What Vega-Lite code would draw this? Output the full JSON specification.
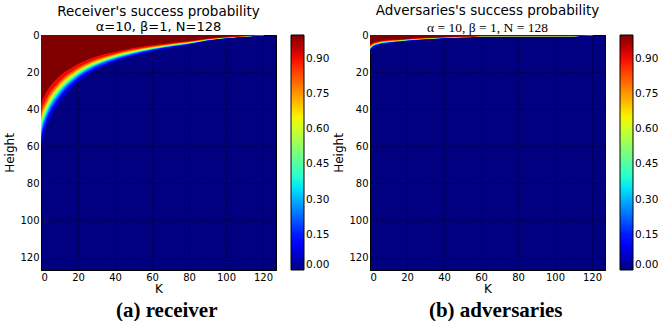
{
"$schema": "https://vega.github.io/schema/vega-lite/v6.json",
"padding": {"left": 3, "top": 3, "right": 0, "bottom": 0},
"background": "white",
"config": {
  "font": "DejaVu Sans",
  "view": {"stroke": "black", "strokeWidth": 1, "fill": "#000080"},
  "axis": {"labelFont": "DejaVu Sans", "labelFontSize": 10, "labelColor": "black", "titleFont": "DejaVu Sans", "titleFontSize": 12, "titleFontWeight": "normal", "titleColor": "black", "grid": true, "gridColor": "black", "gridDash": [1, 2], "gridOpacity": 1, "gridWidth": 0.8, "ticks": false, "domain": true, "domainColor": "black", "labelPadding": 2, "zindex": 1}
},
"datasets": {
"rec": [
{"v":0.1,"K":0,"H":61.8},{"v":0.1,"K":1,"H":55.6},{"v":0.1,"K":2,"H":52.5},{"v":0.1,"K":4,"H":47.0},{"v":0.1,"K":6,"H":42.6},{"v":0.1,"K":9,"H":37.7},{"v":0.1,"K":12,"H":33.4},{"v":0.1,"K":16,"H":29.0},{"v":0.1,"K":20,"H":25.3},{"v":0.1,"K":25,"H":21.6},{"v":0.1,"K":30,"H":18.8},{"v":0.1,"K":36,"H":16.1},{"v":0.1,"K":42,"H":13.8},{"v":0.1,"K":50,"H":11.4},{"v":0.1,"K":60,"H":8.9},{"v":0.1,"K":70,"H":6.9},{"v":0.1,"K":80,"H":5.3},{"v":0.1,"K":90,"H":3.2},{"v":0.1,"K":100,"H":1.9},{"v":0.1,"K":108,"H":1.1},{"v":0.1,"K":113,"H":0.74},{"v":0.1,"K":117,"H":0.37},{"v":0.1,"K":121,"H":0},{"v":0.1,"K":127,"H":0},
{"v":0.2,"K":0,"H":57.0},{"v":0.2,"K":1,"H":51.3},{"v":0.2,"K":2,"H":48.4},{"v":0.2,"K":4,"H":43.3},{"v":0.2,"K":6,"H":39.3},{"v":0.2,"K":9,"H":34.7},{"v":0.2,"K":12,"H":30.8},{"v":0.2,"K":16,"H":26.8},{"v":0.2,"K":20,"H":23.3},{"v":0.2,"K":25,"H":19.9},{"v":0.2,"K":30,"H":17.3},{"v":0.2,"K":36,"H":14.8},{"v":0.2,"K":42,"H":12.8},{"v":0.2,"K":50,"H":10.5},{"v":0.2,"K":60,"H":8.2},{"v":0.2,"K":70,"H":6.4},{"v":0.2,"K":80,"H":4.9},{"v":0.2,"K":90,"H":3.0},{"v":0.2,"K":100,"H":1.7},{"v":0.2,"K":108,"H":1.0},{"v":0.2,"K":113,"H":0.68},{"v":0.2,"K":117,"H":0.34},{"v":0.2,"K":121,"H":0},{"v":0.2,"K":127,"H":0},
{"v":0.3,"K":0,"H":54.4},{"v":0.3,"K":1,"H":49.0},{"v":0.3,"K":2,"H":46.2},{"v":0.3,"K":4,"H":41.3},{"v":0.3,"K":6,"H":37.5},{"v":0.3,"K":9,"H":33.2},{"v":0.3,"K":12,"H":29.4},{"v":0.3,"K":16,"H":25.6},{"v":0.3,"K":20,"H":22.3},{"v":0.3,"K":25,"H":19.0},{"v":0.3,"K":30,"H":16.5},{"v":0.3,"K":36,"H":14.1},{"v":0.3,"K":42,"H":12.2},{"v":0.3,"K":50,"H":10.0},{"v":0.3,"K":60,"H":7.8},{"v":0.3,"K":70,"H":6.1},{"v":0.3,"K":80,"H":4.7},{"v":0.3,"K":90,"H":2.8},{"v":0.3,"K":100,"H":1.6},{"v":0.3,"K":108,"H":1.0},{"v":0.3,"K":113,"H":0.65},{"v":0.3,"K":117,"H":0.33},{"v":0.3,"K":121,"H":0},{"v":0.3,"K":127,"H":0},
{"v":0.4,"K":0,"H":52.5},{"v":0.4,"K":1,"H":47.3},{"v":0.4,"K":2,"H":44.6},{"v":0.4,"K":4,"H":39.9},{"v":0.4,"K":6,"H":36.2},{"v":0.4,"K":9,"H":32.0},{"v":0.4,"K":12,"H":28.4},{"v":0.4,"K":16,"H":24.7},{"v":0.4,"K":20,"H":21.5},{"v":0.4,"K":25,"H":18.4},{"v":0.4,"K":30,"H":16.0},{"v":0.4,"K":36,"H":13.7},{"v":0.4,"K":42,"H":11.8},{"v":0.4,"K":50,"H":9.7},{"v":0.4,"K":60,"H":7.6},{"v":0.4,"K":70,"H":5.9},{"v":0.4,"K":80,"H":4.5},{"v":0.4,"K":90,"H":2.7},{"v":0.4,"K":100,"H":1.6},{"v":0.4,"K":108,"H":0.9},{"v":0.4,"K":113,"H":0.63},{"v":0.4,"K":117,"H":0.32},{"v":0.4,"K":121,"H":0},{"v":0.4,"K":127,"H":0},
{"v":0.5,"K":0,"H":50.8},{"v":0.5,"K":1,"H":45.7},{"v":0.5,"K":2,"H":43.2},{"v":0.5,"K":4,"H":38.6},{"v":0.5,"K":6,"H":35.1},{"v":0.5,"K":9,"H":31.0},{"v":0.5,"K":12,"H":27.4},{"v":0.5,"K":16,"H":23.9},{"v":0.5,"K":20,"H":20.8},{"v":0.5,"K":25,"H":17.8},{"v":0.5,"K":30,"H":15.4},{"v":0.5,"K":36,"H":13.2},{"v":0.5,"K":42,"H":11.4},{"v":0.5,"K":50,"H":9.3},{"v":0.5,"K":60,"H":7.3},{"v":0.5,"K":70,"H":5.7},{"v":0.5,"K":80,"H":4.4},{"v":0.5,"K":90,"H":2.6},{"v":0.5,"K":100,"H":1.5},{"v":0.5,"K":108,"H":0.9},{"v":0.5,"K":113,"H":0.61},{"v":0.5,"K":117,"H":0.30},{"v":0.5,"K":121,"H":0},{"v":0.5,"K":127,"H":0},
{"v":0.6,"K":0,"H":49.2},{"v":0.6,"K":1,"H":44.3},{"v":0.6,"K":2,"H":41.8},{"v":0.6,"K":4,"H":37.4},{"v":0.6,"K":6,"H":33.9},{"v":0.6,"K":9,"H":30.0},{"v":0.6,"K":12,"H":26.6},{"v":0.6,"K":16,"H":23.1},{"v":0.6,"K":20,"H":20.2},{"v":0.6,"K":25,"H":17.2},{"v":0.6,"K":30,"H":15.0},{"v":0.6,"K":36,"H":12.8},{"v":0.6,"K":42,"H":11.0},{"v":0.6,"K":50,"H":9.1},{"v":0.6,"K":60,"H":7.1},{"v":0.6,"K":70,"H":5.5},{"v":0.6,"K":80,"H":4.2},{"v":0.6,"K":90,"H":2.6},{"v":0.6,"K":100,"H":1.5},{"v":0.6,"K":108,"H":0.9},{"v":0.6,"K":113,"H":0.59},{"v":0.6,"K":117,"H":0.30},{"v":0.6,"K":121,"H":0},{"v":0.6,"K":127,"H":0},
{"v":0.7,"K":0,"H":47.5},{"v":0.7,"K":1,"H":42.8},{"v":0.7,"K":2,"H":40.4},{"v":0.7,"K":4,"H":36.1},{"v":0.7,"K":6,"H":32.8},{"v":0.7,"K":9,"H":29.0},{"v":0.7,"K":12,"H":25.7},{"v":0.7,"K":16,"H":22.3},{"v":0.7,"K":20,"H":19.5},{"v":0.7,"K":25,"H":16.6},{"v":0.7,"K":30,"H":14.4},{"v":0.7,"K":36,"H":12.4},{"v":0.7,"K":42,"H":10.6},{"v":0.7,"K":50,"H":8.7},{"v":0.7,"K":60,"H":6.8},{"v":0.7,"K":70,"H":5.3},{"v":0.7,"K":80,"H":4.1},{"v":0.7,"K":90,"H":2.5},{"v":0.7,"K":100,"H":1.4},{"v":0.7,"K":108,"H":0.9},{"v":0.7,"K":113,"H":0.57},{"v":0.7,"K":117,"H":0.29},{"v":0.7,"K":121,"H":0},{"v":0.7,"K":127,"H":0},
{"v":0.8,"K":0,"H":45.6},{"v":0.8,"K":1,"H":41.0},{"v":0.8,"K":2,"H":38.8},{"v":0.8,"K":4,"H":34.7},{"v":0.8,"K":6,"H":31.5},{"v":0.8,"K":9,"H":27.8},{"v":0.8,"K":12,"H":24.6},{"v":0.8,"K":16,"H":21.4},{"v":0.8,"K":20,"H":18.7},{"v":0.8,"K":25,"H":16.0},{"v":0.8,"K":30,"H":13.9},{"v":0.8,"K":36,"H":11.9},{"v":0.8,"K":42,"H":10.2},{"v":0.8,"K":50,"H":8.4},{"v":0.8,"K":60,"H":6.6},{"v":0.8,"K":70,"H":5.1},{"v":0.8,"K":80,"H":3.9},{"v":0.8,"K":90,"H":2.4},{"v":0.8,"K":100,"H":1.4},{"v":0.8,"K":108,"H":0.8},{"v":0.8,"K":113,"H":0.55},{"v":0.8,"K":117,"H":0.27},{"v":0.8,"K":121,"H":0},{"v":0.8,"K":127,"H":0},
{"v":0.9,"K":0,"H":43.1},{"v":0.9,"K":1,"H":38.7},{"v":0.9,"K":2,"H":36.6},{"v":0.9,"K":4,"H":32.7},{"v":0.9,"K":6,"H":29.7},{"v":0.9,"K":9,"H":26.3},{"v":0.9,"K":12,"H":23.2},{"v":0.9,"K":16,"H":20.2},{"v":0.9,"K":20,"H":17.7},{"v":0.9,"K":25,"H":15.1},{"v":0.9,"K":30,"H":13.1},{"v":0.9,"K":36,"H":11.2},{"v":0.9,"K":42,"H":9.6},{"v":0.9,"K":50,"H":7.9},{"v":0.9,"K":60,"H":6.2},{"v":0.9,"K":70,"H":4.8},{"v":0.9,"K":80,"H":3.7},{"v":0.9,"K":90,"H":2.2},{"v":0.9,"K":100,"H":1.3},{"v":0.9,"K":108,"H":0.8},{"v":0.9,"K":113,"H":0.52},{"v":0.9,"K":117,"H":0.26},{"v":0.9,"K":121,"H":0},{"v":0.9,"K":127,"H":0},
{"v":1.0,"K":0,"H":38.2},{"v":1.0,"K":1,"H":34.4},{"v":1.0,"K":2,"H":32.5},{"v":1.0,"K":4,"H":29.0},{"v":1.0,"K":6,"H":26.4},{"v":1.0,"K":9,"H":23.3},{"v":1.0,"K":12,"H":20.6},{"v":1.0,"K":16,"H":18.0},{"v":1.0,"K":20,"H":15.7},{"v":1.0,"K":25,"H":13.4},{"v":1.0,"K":30,"H":11.6},{"v":1.0,"K":36,"H":9.9},{"v":1.0,"K":42,"H":8.6},{"v":1.0,"K":50,"H":7.0},{"v":1.0,"K":60,"H":5.5},{"v":1.0,"K":70,"H":4.3},{"v":1.0,"K":80,"H":3.3},{"v":1.0,"K":90,"H":2.0},{"v":1.0,"K":100,"H":1.1},{"v":1.0,"K":108,"H":0.7},{"v":1.0,"K":113,"H":0.46},{"v":1.0,"K":117,"H":0.23},{"v":1.0,"K":121,"H":0},{"v":1.0,"K":127,"H":0}
],
"adv": [
{"v":0.1,"K":0,"H":8.7},{"v":0.1,"K":1,"H":7.4},{"v":0.1,"K":2,"H":6.6},{"v":0.1,"K":4,"H":5.7},{"v":0.1,"K":6,"H":5.1},{"v":0.1,"K":9,"H":4.6},{"v":0.1,"K":12,"H":4.2},{"v":0.1,"K":16,"H":3.8},{"v":0.1,"K":20,"H":3.3},{"v":0.1,"K":25,"H":2.8},{"v":0.1,"K":30,"H":2.5},{"v":0.1,"K":36,"H":2.1},{"v":0.1,"K":42,"H":1.7},{"v":0.1,"K":50,"H":1.4},{"v":0.1,"K":56,"H":1.24},{"v":0.1,"K":60,"H":0.87},{"v":0.1,"K":80,"H":0.87},{"v":0.1,"K":108,"H":0.87},{"v":0.1,"K":113,"H":0.62},{"v":0.1,"K":117,"H":0.37},{"v":0.1,"K":121,"H":0},{"v":0.1,"K":127,"H":0},
{"v":0.2,"K":0,"H":8.0},{"v":0.2,"K":1,"H":6.8},{"v":0.2,"K":2,"H":6.0},{"v":0.2,"K":4,"H":5.2},{"v":0.2,"K":6,"H":4.7},{"v":0.2,"K":9,"H":4.2},{"v":0.2,"K":12,"H":3.9},{"v":0.2,"K":16,"H":3.5},{"v":0.2,"K":20,"H":3.1},{"v":0.2,"K":25,"H":2.6},{"v":0.2,"K":30,"H":2.3},{"v":0.2,"K":36,"H":1.9},{"v":0.2,"K":42,"H":1.6},{"v":0.2,"K":50,"H":1.3},{"v":0.2,"K":56,"H":1.14},{"v":0.2,"K":60,"H":0.80},{"v":0.2,"K":80,"H":0.80},{"v":0.2,"K":108,"H":0.80},{"v":0.2,"K":113,"H":0.57},{"v":0.2,"K":117,"H":0.34},{"v":0.2,"K":121,"H":0},{"v":0.2,"K":127,"H":0},
{"v":0.3,"K":0,"H":7.6},{"v":0.3,"K":1,"H":6.5},{"v":0.3,"K":2,"H":5.8},{"v":0.3,"K":4,"H":5.0},{"v":0.3,"K":6,"H":4.5},{"v":0.3,"K":9,"H":4.0},{"v":0.3,"K":12,"H":3.7},{"v":0.3,"K":16,"H":3.4},{"v":0.3,"K":20,"H":2.9},{"v":0.3,"K":25,"H":2.5},{"v":0.3,"K":30,"H":2.2},{"v":0.3,"K":36,"H":1.8},{"v":0.3,"K":42,"H":1.5},{"v":0.3,"K":50,"H":1.2},{"v":0.3,"K":56,"H":1.09},{"v":0.3,"K":60,"H":0.76},{"v":0.3,"K":80,"H":0.76},{"v":0.3,"K":108,"H":0.76},{"v":0.3,"K":113,"H":0.54},{"v":0.3,"K":117,"H":0.33},{"v":0.3,"K":121,"H":0},{"v":0.3,"K":127,"H":0},
{"v":0.4,"K":0,"H":7.4},{"v":0.4,"K":1,"H":6.3},{"v":0.4,"K":2,"H":5.6},{"v":0.4,"K":4,"H":4.8},{"v":0.4,"K":6,"H":4.3},{"v":0.4,"K":9,"H":3.9},{"v":0.4,"K":12,"H":3.6},{"v":0.4,"K":16,"H":3.3},{"v":0.4,"K":20,"H":2.8},{"v":0.4,"K":25,"H":2.4},{"v":0.4,"K":30,"H":2.1},{"v":0.4,"K":36,"H":1.8},{"v":0.4,"K":42,"H":1.5},{"v":0.4,"K":50,"H":1.2},{"v":0.4,"K":56,"H":1.05},{"v":0.4,"K":60,"H":0.74},{"v":0.4,"K":80,"H":0.74},{"v":0.4,"K":108,"H":0.74},{"v":0.4,"K":113,"H":0.53},{"v":0.4,"K":117,"H":0.32},{"v":0.4,"K":121,"H":0},{"v":0.4,"K":127,"H":0},
{"v":0.5,"K":0,"H":7.1},{"v":0.5,"K":1,"H":6.1},{"v":0.5,"K":2,"H":5.4},{"v":0.5,"K":4,"H":4.7},{"v":0.5,"K":6,"H":4.2},{"v":0.5,"K":9,"H":3.8},{"v":0.5,"K":12,"H":3.5},{"v":0.5,"K":16,"H":3.1},{"v":0.5,"K":20,"H":2.7},{"v":0.5,"K":25,"H":2.3},{"v":0.5,"K":30,"H":2.0},{"v":0.5,"K":36,"H":1.7},{"v":0.5,"K":42,"H":1.4},{"v":0.5,"K":50,"H":1.1},{"v":0.5,"K":56,"H":1.02},{"v":0.5,"K":60,"H":0.71},{"v":0.5,"K":80,"H":0.71},{"v":0.5,"K":108,"H":0.71},{"v":0.5,"K":113,"H":0.51},{"v":0.5,"K":117,"H":0.30},{"v":0.5,"K":121,"H":0},{"v":0.5,"K":127,"H":0},
{"v":0.6,"K":0,"H":6.9},{"v":0.6,"K":1,"H":5.9},{"v":0.6,"K":2,"H":5.2},{"v":0.6,"K":4,"H":4.5},{"v":0.6,"K":6,"H":4.0},{"v":0.6,"K":9,"H":3.6},{"v":0.6,"K":12,"H":3.3},{"v":0.6,"K":16,"H":3.1},{"v":0.6,"K":20,"H":2.7},{"v":0.6,"K":25,"H":2.3},{"v":0.6,"K":30,"H":2.0},{"v":0.6,"K":36,"H":1.7},{"v":0.6,"K":42,"H":1.4},{"v":0.6,"K":50,"H":1.1},{"v":0.6,"K":56,"H":0.98},{"v":0.6,"K":60,"H":0.69},{"v":0.6,"K":80,"H":0.69},{"v":0.6,"K":108,"H":0.69},{"v":0.6,"K":113,"H":0.49},{"v":0.6,"K":117,"H":0.30},{"v":0.6,"K":121,"H":0},{"v":0.6,"K":127,"H":0},
{"v":0.7,"K":0,"H":6.7},{"v":0.7,"K":1,"H":5.7},{"v":0.7,"K":2,"H":5.0},{"v":0.7,"K":4,"H":4.4},{"v":0.7,"K":6,"H":3.9},{"v":0.7,"K":9,"H":3.5},{"v":0.7,"K":12,"H":3.2},{"v":0.7,"K":16,"H":2.9},{"v":0.7,"K":20,"H":2.6},{"v":0.7,"K":25,"H":2.2},{"v":0.7,"K":30,"H":1.9},{"v":0.7,"K":36,"H":1.6},{"v":0.7,"K":42,"H":1.3},{"v":0.7,"K":50,"H":1.0},{"v":0.7,"K":56,"H":0.95},{"v":0.7,"K":60,"H":0.67},{"v":0.7,"K":80,"H":0.67},{"v":0.7,"K":108,"H":0.67},{"v":0.7,"K":113,"H":0.48},{"v":0.7,"K":117,"H":0.29},{"v":0.7,"K":121,"H":0},{"v":0.7,"K":127,"H":0},
{"v":0.8,"K":0,"H":6.4},{"v":0.8,"K":1,"H":5.5},{"v":0.8,"K":2,"H":4.8},{"v":0.8,"K":4,"H":4.2},{"v":0.8,"K":6,"H":3.7},{"v":0.8,"K":9,"H":3.4},{"v":0.8,"K":12,"H":3.1},{"v":0.8,"K":16,"H":2.8},{"v":0.8,"K":20,"H":2.5},{"v":0.8,"K":25,"H":2.1},{"v":0.8,"K":30,"H":1.8},{"v":0.8,"K":36,"H":1.6},{"v":0.8,"K":42,"H":1.3},{"v":0.8,"K":50,"H":1.0},{"v":0.8,"K":56,"H":0.91},{"v":0.8,"K":60,"H":0.64},{"v":0.8,"K":80,"H":0.64},{"v":0.8,"K":108,"H":0.64},{"v":0.8,"K":113,"H":0.46},{"v":0.8,"K":117,"H":0.27},{"v":0.8,"K":121,"H":0},{"v":0.8,"K":127,"H":0},
{"v":0.9,"K":0,"H":6.0},{"v":0.9,"K":1,"H":5.2},{"v":0.9,"K":2,"H":4.6},{"v":0.9,"K":4,"H":4.0},{"v":0.9,"K":6,"H":3.5},{"v":0.9,"K":9,"H":3.2},{"v":0.9,"K":12,"H":2.9},{"v":0.9,"K":16,"H":2.7},{"v":0.9,"K":20,"H":2.3},{"v":0.9,"K":25,"H":2.0},{"v":0.9,"K":30,"H":1.7},{"v":0.9,"K":36,"H":1.5},{"v":0.9,"K":42,"H":1.2},{"v":0.9,"K":50,"H":0.9},{"v":0.9,"K":56,"H":0.86},{"v":0.9,"K":60,"H":0.60},{"v":0.9,"K":80,"H":0.60},{"v":0.9,"K":108,"H":0.60},{"v":0.9,"K":113,"H":0.43},{"v":0.9,"K":117,"H":0.26},{"v":0.9,"K":121,"H":0},{"v":0.9,"K":127,"H":0},
{"v":1.0,"K":0,"H":5.3},{"v":1.0,"K":1,"H":4.6},{"v":1.0,"K":2,"H":4.0},{"v":1.0,"K":4,"H":3.5},{"v":1.0,"K":6,"H":3.1},{"v":1.0,"K":9,"H":2.8},{"v":1.0,"K":12,"H":2.6},{"v":1.0,"K":16,"H":2.4},{"v":1.0,"K":20,"H":2.1},{"v":1.0,"K":25,"H":1.8},{"v":1.0,"K":30,"H":1.5},{"v":1.0,"K":36,"H":1.3},{"v":1.0,"K":42,"H":1.1},{"v":1.0,"K":50,"H":0.8},{"v":1.0,"K":56,"H":0.76},{"v":1.0,"K":60,"H":0.53},{"v":1.0,"K":80,"H":0.53},{"v":1.0,"K":108,"H":0.53},{"v":1.0,"K":113,"H":0.38},{"v":1.0,"K":117,"H":0.23},{"v":1.0,"K":121,"H":0},{"v":1.0,"K":127,"H":0}
]
},
"spacing": 2,
"resolve": {"scale": {"color": "independent"}},
"hconcat": [
{
  "title": {"text": "(a) receiver", "orient": "bottom", "font": "Liberation Serif", "fontSize": 21, "fontWeight": "bold", "color": "black", "anchor": "middle", "offset": 5},
  "vconcat": [{
    "width": 235, "height": 235,
    "title": {"text": "Receiver's success probability", "subtitle": "α=10, β=1, N=128", "font": "DejaVu Sans", "fontSize": 13.5, "fontWeight": "normal", "color": "black", "subtitleFont": "DejaVu Sans", "subtitleFontSize": 13, "subtitleColor": "black", "subtitlePadding": 3, "anchor": "middle", "offset": -4},
    "data": {"name": "rec"},
    "mark": {"type": "area", "interpolate": "monotone", "clip": true, "orient": "vertical"},
    "encoding": {
      "x": {"field": "K", "type": "quantitative", "scale": {"domain": [0, 127], "nice": false, "zero": false}, "axis": {"values": [0, 20, 40, 60, 80, 100, 120], "title": "K", "titlePadding": 1}},
      "y": {"field": "H", "type": "quantitative", "stack": null, "scale": {"domain": [0, 127], "reverse": true, "nice": false, "zero": false}, "axis": {"values": [0, 20, 40, 60, 80, 100, 120], "title": "Height", "titlePadding": 3}},
      "y2": {"datum": 0},
      "color": {"field": "v", "type": "quantitative",
        "scale": {"domain": [0, 0.11, 0.125, 0.34, 0.35, 0.375, 0.64, 0.65, 0.66, 0.89, 0.91, 1], "range": ["#000080", "#0000ff", "#0000ff", "#00dbff", "#00e6f7", "#15ffe2", "#eeff08", "#f7f600", "#ffec00", "#ff1300", "#e80000", "#800000"], "interpolate": "rgb"},
        "legend": {"title": null, "values": [0, 0.15, 0.3, 0.45, 0.6, 0.75, 0.9], "format": ".2f", "gradientLength": 235, "gradientThickness": 13, "offset": 14, "labelFont": "DejaVu Sans", "labelFontSize": 10.5, "labelColor": "black", "labelBaseline": "middle", "labelOffset": 2, "labelOverlap": false, "gradientStrokeColor": "black", "gradientStrokeWidth": 1, "direction": "vertical", "orient": "right"}}
    }
  }]
},
{
  "title": {"text": "(b) adversaries", "orient": "bottom", "font": "Liberation Serif", "fontSize": 21, "fontWeight": "bold", "color": "black", "anchor": "middle", "offset": 5},
  "vconcat": [{
    "width": 235, "height": 235,
    "title": {"text": "Adversaries's success probability", "subtitle": "α = 10, β = 1, N = 128", "font": "DejaVu Sans", "fontSize": 13.5, "fontWeight": "normal", "color": "black", "subtitleFont": "Liberation Serif", "subtitleFontSize": 13.5, "subtitleColor": "black", "subtitlePadding": 3, "anchor": "middle", "offset": -4},
    "data": {"name": "adv"},
    "mark": {"type": "area", "interpolate": "monotone", "clip": true, "orient": "vertical"},
    "encoding": {
      "x": {"field": "K", "type": "quantitative", "scale": {"domain": [0, 127], "nice": false, "zero": false}, "axis": {"values": [0, 20, 40, 60, 80, 100, 120], "title": "K", "titlePadding": 1}},
      "y": {"field": "H", "type": "quantitative", "stack": null, "scale": {"domain": [0, 127], "reverse": true, "nice": false, "zero": false}, "axis": {"values": [0, 20, 40, 60, 80, 100, 120], "title": "Height", "titlePadding": 3}},
      "y2": {"datum": 0},
      "color": {"field": "v", "type": "quantitative",
        "scale": {"domain": [0, 0.11, 0.125, 0.34, 0.35, 0.375, 0.64, 0.65, 0.66, 0.89, 0.91, 1], "range": ["#000080", "#0000ff", "#0000ff", "#00dbff", "#00e6f7", "#15ffe2", "#eeff08", "#f7f600", "#ffec00", "#ff1300", "#e80000", "#800000"], "interpolate": "rgb"},
        "legend": {"title": null, "values": [0, 0.15, 0.3, 0.45, 0.6, 0.75, 0.9], "format": ".2f", "gradientLength": 235, "gradientThickness": 13, "offset": 14, "labelFont": "DejaVu Sans", "labelFontSize": 10.5, "labelColor": "black", "labelBaseline": "middle", "labelOffset": 2, "labelOverlap": false, "gradientStrokeColor": "black", "gradientStrokeWidth": 1, "direction": "vertical", "orient": "right"}}
    }
  }]
}
]
}
